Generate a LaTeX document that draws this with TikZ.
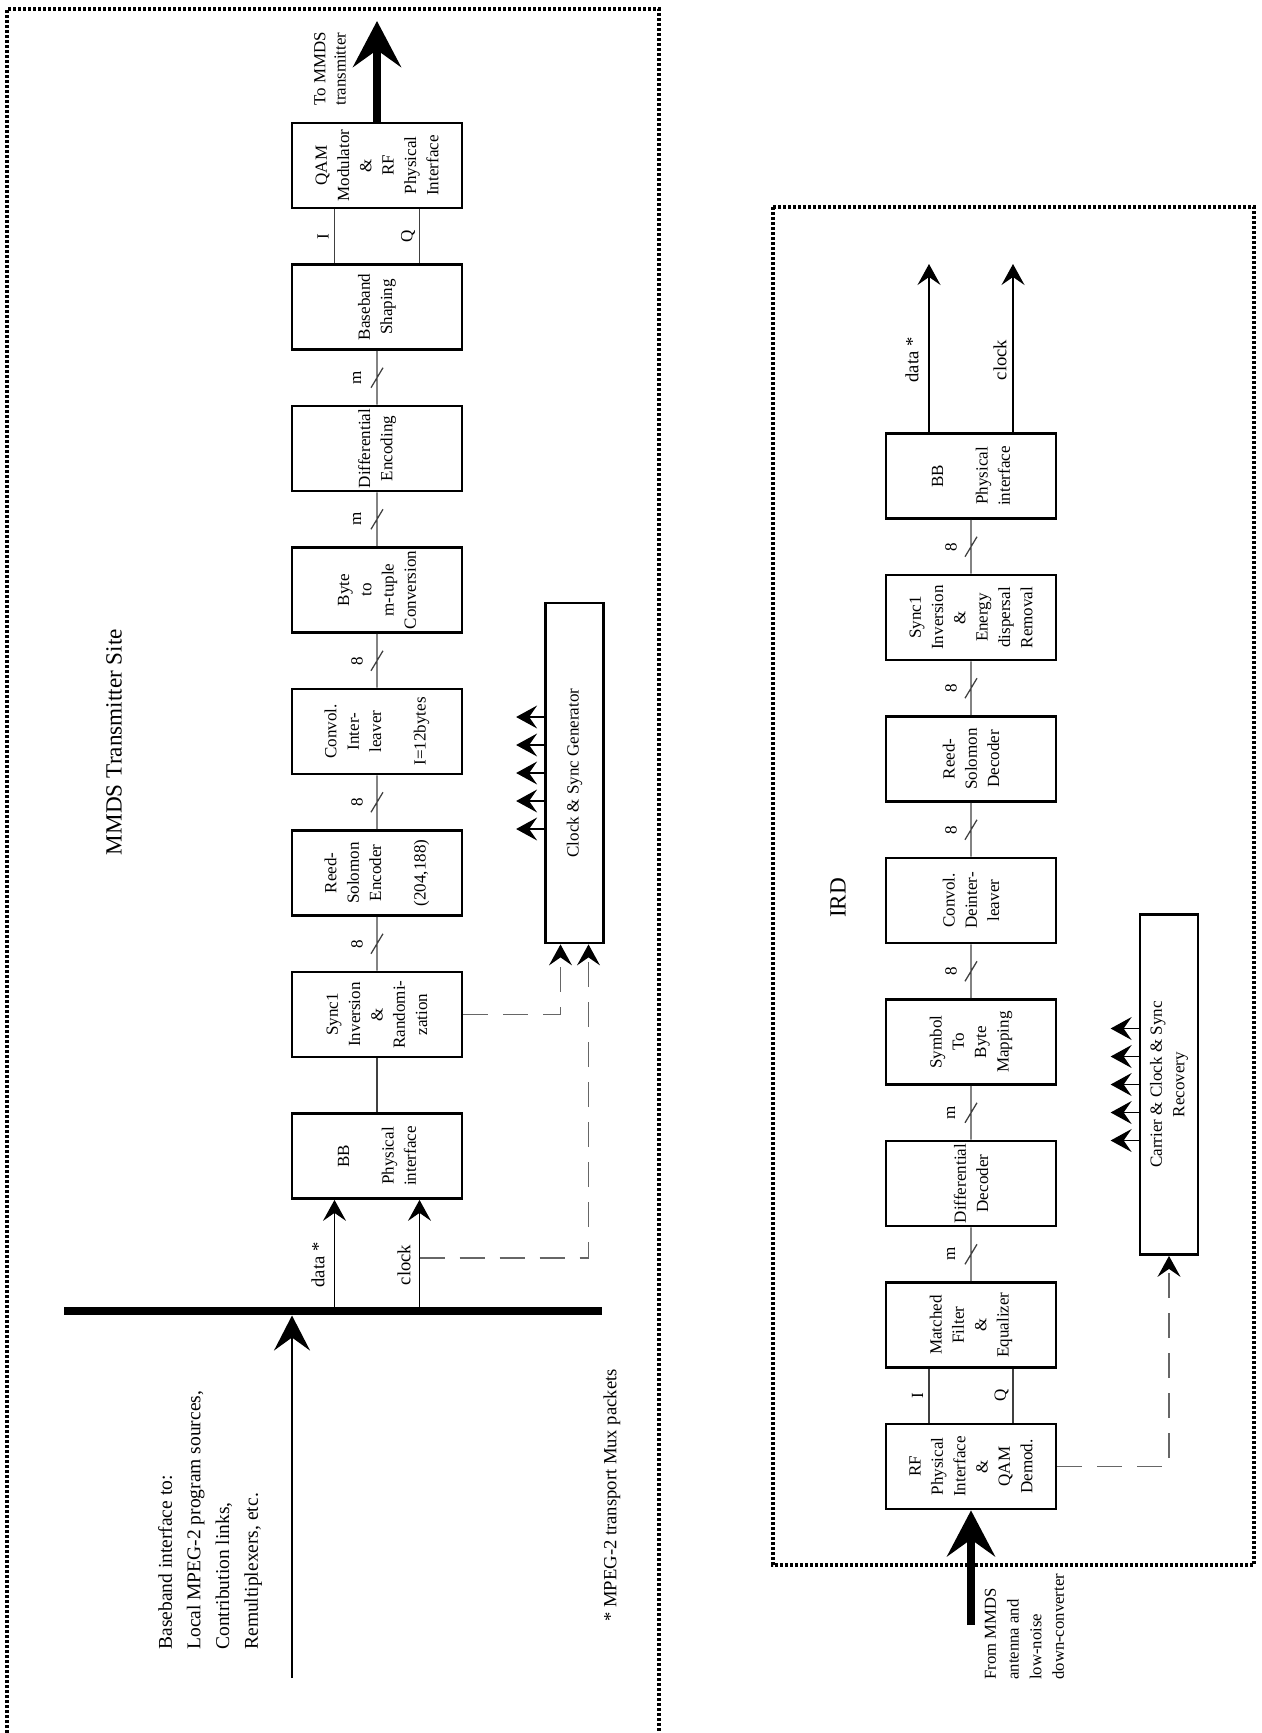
\documentclass[tikz,border=0pt]{standalone}
\usepackage{fontspec}
\setmainfont{Liberation Serif}
\usepackage{tikz}
\usetikzlibrary{arrows.meta,calc}
\newcommand{\boxfont}{\fontsize{9.7}{12.7}\selectfont}
\newcommand{\labfont}{\fontsize{10.6}{14}\selectfont}
\newcommand{\notefont}{\fontsize{11.1}{16.3}\selectfont}
\newcommand{\smallnote}{\fontsize{9.5}{12.9}\selectfont}
\newcommand{\outnote}{\fontsize{9.6}{11.4}\selectfont}
\newcommand{\titlefont}{\fontsize{13.2}{16}\selectfont}
\tikzset{
  blockbox/.style={draw, line width=0.55mm, rotate=90, minimum width=17mm, minimum height=34mm, inner sep=0pt, align=center, font=\boxfont},
  ctrlbox/.style={draw, line width=0.55mm, rotate=90, minimum width=68mm, minimum height=11.6mm, inner sep=0pt, align=center, font=\boxfont},
  link/.style={draw=black!75, line width=0.25mm},
  sigarrow/.style={line width=0.25mm, -{Stealth[length=4.2mm,width=4.6mm,inset=1.6mm]}},
  ctrlarrow/.style={draw=black!60, line width=0.3mm, dash pattern=on 5mm off 3mm, -{Stealth[length=4.2mm,width=4.6mm,inset=1.6mm,color=black]}},
  fatarrow/.style={line width=1.5mm, -{Stealth[length=9.2mm,width=9.6mm,inset=3.4mm]}},
  inarrow/.style={line width=0.5mm, -{Stealth[length=7mm,width=7.2mm,inset=2.6mm]}},
  busbar/.style={line width=1.65mm},
  sitebox/.style={line width=0.65mm, dash pattern=on 0.6mm off 0.4mm},
  buslabel/.style={xshift=-4mm, rotate=90, inner sep=0pt, font=\boxfont},
  iqlabel/.style={xshift=-2.3mm, rotate=90, inner sep=0pt, font=\boxfont},
  siglabel/.style={rotate=90, inner sep=0pt, font=\labfont},
  note/.style={rotate=90, inner sep=0pt, align=left},
  heading/.style={rotate=90, inner sep=0pt, font=\titlefont}
}
\begin{document}
\begin{tikzpicture}[x=0.2mm, y=-0.2mm]
\useasboundingbox (0,0) rectangle (1262,1733);
\draw[sitebox] (7,1733) -- (7,9) -- (659,9) -- (659,1733);
\draw[sitebox] (773,207) rectangle (1254,1565);
\node[heading] (txtitle) at (114,742) {MMDS Transmitter Site};
\node[heading] (rxtitle) at (838,898) {IRD};

\node[blockbox] (qam) at (377,165.5) {QAM\\Modulator\\\&\\RF\\Physical\\Interface};
\node[blockbox] (bbs) at (377,307) {Baseband\\Shaping};
\node[blockbox] (de) at (377,448.5) {Differential\\Encoding};
\node[blockbox] (b2m) at (377,590) {Byte\\to\\m-tuple\\Conversion};
\node[blockbox] (il) at (377,731.5) {Convol.\\Inter-\\leaver\\[12.7pt]I=12bytes};
\node[blockbox] (rse) at (377,873) {Reed-\\Solomon\\Encoder\\[12.7pt](204,188)};
\node[blockbox] (rand) at (377,1014.5) {Sync1\\Inversion\\\&\\Randomi-\\zation};
\node[blockbox] (txbb) at (377,1156) {BB\\[12.7pt]Physical\\interface};
\node[ctrlbox] (clkgen) at (574.5,773) {Clock \& Sync Generator};

\draw[link] (txbb) -- (rand);
\draw[link] (rand) -- node[buslabel] (wrse) {8} (rse) ($(rand)!.5!(rse)$) +(-6,10) -- +(6,-10);
\draw[link] (rse) -- node[buslabel] (wil) {8} (il) ($(rse)!.5!(il)$) +(-6,10) -- +(6,-10);
\draw[link] (il) -- node[buslabel] (wb2m) {8} (b2m) ($(il)!.5!(b2m)$) +(-6,10) -- +(6,-10);
\draw[link] (b2m) -- node[buslabel] (wde) {m} (de) ($(b2m)!.5!(de)$) +(-6,10) -- +(6,-10);
\draw[link] (de) -- node[buslabel] (wbbs) {m} (bbs) ($(de)!.5!(bbs)$) +(-6,10) -- +(6,-10);
\coordinate (txi) at (334.5,236);
\coordinate (txq) at (419.5,236);
\draw[link] (bbs.east -| txi) -- node[iqlabel] (tilab) {I} (qam.west -| txi);
\draw[link] (bbs.east -| txq) -- node[iqlabel] (tqlab) {Q} (qam.west -| txq);

\coordinate (txout) at (377,21);
\draw[fatarrow] (qam.east) -- (txout);
\node[note, font=\outnote, anchor=west] (txoutlbl) at (330,106) {To MMDS\\transmitter};

\coordinate (busl) at (64,1311);
\coordinate (busr) at (602,1311);
\draw[busbar] (busl) -- (busr);
\coordinate (srcin) at (292,1678);
\coordinate (busin) at (292,1315.5);
\draw[inarrow] (srcin) -- (busin);
\node[note, font=\notefont, anchor=west] (srclbl) at (210,1650) {Baseband interface to:\\Local MPEG-2 program sources,\\Contribution links,\\Remultiplexers, etc.};
\node[siglabel, anchor=west] (footnote) at (612,1622) {* MPEG-2 transport Mux packets};

\coordinate (txdata) at (334.5,1307);
\coordinate (txclk) at (419.5,1307);
\draw[sigarrow] (txdata) -- (txbb.west -| txdata);
\draw[sigarrow] (txclk) -- (txbb.west -| txclk);
\node[siglabel] (tdlab) at (318,1265) {data *};
\node[siglabel] (tclab) at (404,1265) {clock};
\coordinate (clktap) at (419.5,1258);
\draw[ctrlarrow] (clktap) -| ($(clkgen.west)+(14,0)$);
\draw[ctrlarrow] (rand.south) -| ($(clkgen.west)+(-14,0)$);
\draw[sigarrow] ($(clkgen.north)+(0,-56)$) -- +(-28,0);
\draw[sigarrow] ($(clkgen.north)+(0,-28)$) -- +(-28,0);
\draw[sigarrow] (clkgen.north) -- +(-28,0);
\draw[sigarrow] ($(clkgen.north)+(0,28)$) -- +(-28,0);
\draw[sigarrow] ($(clkgen.north)+(0,56)$) -- +(-28,0);

\node[blockbox] (rxrf) at (971,1466.5) {RF\\Physical\\Interface\\\&\\QAM\\Demod.};
\node[blockbox] (mfeq) at (971,1325) {Matched\\Filter\\\&\\Equalizer};
\node[blockbox] (dd) at (971,1183.5) {Differential\\Decoder};
\node[blockbox] (sbm) at (971,1042) {Symbol\\To\\Byte\\Mapping};
\node[blockbox] (dil) at (971,900.5) {Convol.\\Deinter-\\leaver};
\node[blockbox] (rsd) at (971,759) {Reed-\\Solomon\\Decoder};
\node[blockbox] (derand) at (971,617.5) {Sync1\\Inversion\\\&\\Energy\\dispersal\\Removal};
\node[blockbox] (rxbb) at (971,476) {BB\\[12.7pt]Physical\\interface};
\node[ctrlbox] (carrier) at (1169,1084.5) {Carrier \& Clock \& Sync\\Recovery};

\coordinate (rxi) at (929,1395.5);
\coordinate (rxq) at (1013,1395.5);
\draw[link] (rxrf.east -| rxi) -- node[iqlabel] (rilab) {I} (mfeq.west -| rxi);
\draw[link] (rxrf.east -| rxq) -- node[iqlabel] (rqlab) {Q} (mfeq.west -| rxq);
\draw[link] (mfeq) -- node[buslabel] (wdd) {m} (dd) ($(mfeq)!.5!(dd)$) +(-6,10) -- +(6,-10);
\draw[link] (dd) -- node[buslabel] (wsbm) {m} (sbm) ($(dd)!.5!(sbm)$) +(-6,10) -- +(6,-10);
\draw[link] (sbm) -- node[buslabel] (wdil) {8} (dil) ($(sbm)!.5!(dil)$) +(-6,10) -- +(6,-10);
\draw[link] (dil) -- node[buslabel] (wrsd) {8} (rsd) ($(dil)!.5!(rsd)$) +(-6,10) -- +(6,-10);
\draw[link] (rsd) -- node[buslabel] (wderand) {8} (derand) ($(rsd)!.5!(derand)$) +(-6,10) -- +(6,-10);
\draw[link] (derand) -- node[buslabel] (wrxbb) {8} (rxbb) ($(derand)!.5!(rxbb)$) +(-6,10) -- +(6,-10);

\coordinate (rxin) at (971,1625);
\draw[fatarrow] (rxin) -- (rxrf.west);
\node[note, font=\smallnote, anchor=west] (rxinlbl) at (1024.5,1680) {From MMDS\\antenna and\\low-noise\\down-converter};

\coordinate (rxdata) at (929,264);
\coordinate (rxclk) at (1013,264);
\draw[sigarrow] (rxbb.east -| rxdata) -- (rxdata);
\draw[sigarrow] (rxbb.east -| rxclk) -- (rxclk);
\node[siglabel] (rdlab) at (912,360) {data *};
\node[siglabel] (rclab) at (1000,360) {clock};
\draw[ctrlarrow] (rxrf.south) -| (carrier.west);
\draw[sigarrow] ($(carrier.north)+(0,-56)$) -- +(-28,0);
\draw[sigarrow] ($(carrier.north)+(0,-28)$) -- +(-28,0);
\draw[sigarrow] (carrier.north) -- +(-28,0);
\draw[sigarrow] ($(carrier.north)+(0,28)$) -- +(-28,0);
\draw[sigarrow] ($(carrier.north)+(0,56)$) -- +(-28,0);
\end{tikzpicture}
\end{document}
